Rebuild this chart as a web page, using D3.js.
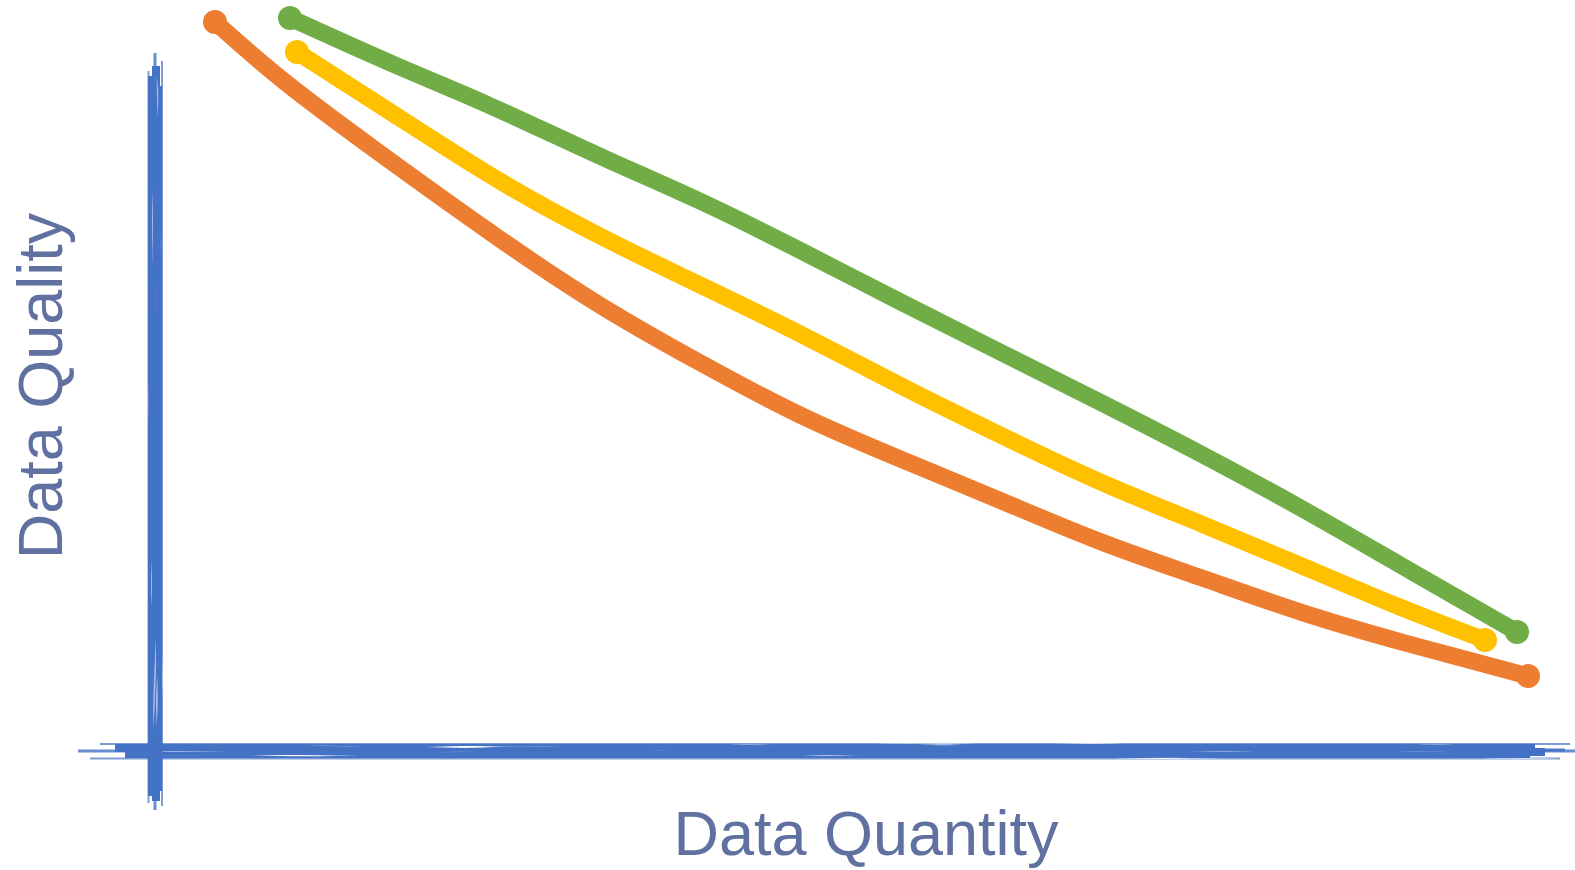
<!DOCTYPE html>
<html>
<head>
<meta charset="utf-8">
<script src="https://cdn.jsdelivr.net/npm/d3@7/dist/d3.min.js"></script>
<style>
  html, body { margin: 0; padding: 0; background: #ffffff; }
  svg { display: block; }
</style>
</head>
<body>
<svg id="chart" width="1575" height="870"></svg>
<script>
// ---- data ----
const seriesNames = ["Orange", "Yellow", "Green"];
const seriesColors = ["#ed7d31", "#ffc000", "#70ad47"];

const orangeQuantity = [6.0, 12.5, 22.0, 34.5, 44.5, 54.5, 64.5, 74.5, 84.5, 94.5, 104.5, 114.5, 124.5, 137.3];
const orangeQuality  = [72.9, 67.1, 60.1, 51.1, 44.4, 38.8, 33.4, 29.2, 25.1, 20.8, 17.4, 13.8, 10.9, 7.5];

const yellowQuantity = [14.2, 24.5, 34.5, 44.5, 54.5, 64.5, 74.5, 84.5, 94.5, 104.5, 114.5, 124.5, 133.0];
const yellowQuality  = [69.9, 63.3, 56.8, 51.4, 46.6, 41.8, 36.5, 31.6, 26.8, 22.8, 18.6, 14.3, 11.1];

const greenQuantity  = [13.5, 24.5, 32.5, 44.5, 54.5, 64.5, 74.5, 84.5, 94.5, 104.5, 114.5, 124.5, 136.2];
const greenQuality   = [73.3, 68.3, 65.1, 59.4, 55.1, 50.1, 44.9, 39.9, 34.9, 29.8, 24.4, 18.6, 11.9];

const xLabel = "Data Quantity";
const yLabel = "Data Quality";

// ---- layout ----
const svg = d3.select("#chart");
const x = d3.scaleLinear().domain([0, 140]).range([155, 1555]);
const y = d3.scaleLinear().domain([0, 70]).range([751, 51]);

const defs = svg.append("defs");

// brush texture for axes
function brushFilter(id, freq, seed) {
  const f = defs.append("filter").attr("id", id)
    .attr("filterUnits", "userSpaceOnUse")
    .attr("x", 0).attr("y", 0).attr("width", 1575).attr("height", 870)
    .attr("color-interpolation-filters", "sRGB");
  f.append("feTurbulence").attr("type", "fractalNoise").attr("baseFrequency", freq)
    .attr("numOctaves", 2).attr("seed", seed).attr("result", "n");
  f.append("feColorMatrix").attr("in", "n").attr("type", "matrix")
    .attr("values", "0 0 0 0 0  0 0 0 0 0  0 0 0 0 0  6 0 0 0 -0.9").attr("result", "m");
  f.append("feComposite").attr("in", "SourceGraphic").attr("in2", "m").attr("operator", "in");
}
brushFilter("brushH", "0.008 0.35", 3);
brushFilter("brushV", "0.35 0.008", 5);

const axisColor = "#4472c4";

// ---- axes (brush strokes) ----
const gx = svg.append("g").attr("filter", "url(#brushH)");
const xStrokes = [
  { a: -7.7, b: 142.0, off: 0, w: 3, o: 0.8 },
  { a: -4.0, b: 138.0, off: -3, w: 8, o: 1 },
  { a: -2.5, b: 139.0, off: 1, w: 8, o: 1 },
  { a: -3.0, b: 137.5, off: 4, w: 6, o: 1 },
  { a: -6.5, b: 140.5, off: 7.5, w: 2, o: 0.7 },
  { a: -5.5, b: 141.5, off: -7, w: 2, o: 0.7 },
  { a: 0.5, b: 141.0, off: -1, w: 3, o: 0.9 }
];
xStrokes.forEach(s => {
  gx.append("line")
    .attr("x1", x(s.a)).attr("x2", x(s.b))
    .attr("y1", y(0) + s.off).attr("y2", y(0) + s.off)
    .attr("stroke", axisColor).attr("stroke-width", s.w).attr("stroke-opacity", s.o);
});

const gy = svg.append("g").attr("filter", "url(#brushV)");
const yStrokes = [
  { a: -5.9, b: 69.8, off: 0, w: 3, o: 0.8 },
  { a: -4.5, b: 67.5, off: -3, w: 8, o: 1 },
  { a: -5.0, b: 68.5, off: 1, w: 8, o: 1 },
  { a: -4.0, b: 66.5, off: 4, w: 6, o: 1 },
  { a: -5.5, b: 69.0, off: 7, w: 2, o: 0.7 },
  { a: -5.2, b: 68.0, off: -6.5, w: 2, o: 0.7 }
];
yStrokes.forEach(s => {
  gy.append("line")
    .attr("x1", x(0) + s.off).attr("x2", x(0) + s.off)
    .attr("y1", y(s.a)).attr("y2", y(s.b))
    .attr("stroke", axisColor).attr("stroke-width", s.w).attr("stroke-opacity", s.o);
});

// ---- series lines ----
const series = [
  { name: seriesNames[0], color: seriesColors[0], q: orangeQuantity, v: orangeQuality },
  { name: seriesNames[1], color: seriesColors[1], q: yellowQuantity, v: yellowQuality },
  { name: seriesNames[2], color: seriesColors[2], q: greenQuantity, v: greenQuality }
];

const line = d3.line().x(d => x(d[0])).y(d => y(d[1])).curve(d3.curveBasis);

const gl = svg.append("g");
series.forEach(s => {
  const pts = s.q.map((q, i) => [q, s.v[i]]);
  gl.append("path")
    .datum(pts)
    .attr("d", line)
    .attr("fill", "none")
    .attr("stroke", s.color)
    .attr("stroke-width", 17)
    .attr("stroke-linecap", "round")
    .attr("stroke-linejoin", "round");
  [pts[0], pts[pts.length - 1]].forEach(p => {
    gl.append("circle")
      .attr("cx", x(p[0])).attr("cy", y(p[1])).attr("r", 12)
      .attr("fill", s.color);
  });
});

// ---- axis labels ----
const labelColor = "#6070a0";
svg.append("text")
  .attr("x", 866).attr("y", 855)
  .attr("text-anchor", "middle")
  .attr("font-family", "'Liberation Sans', Arial, Helvetica, sans-serif")
  .attr("font-size", 63)
  .attr("fill", labelColor)
  .text(xLabel);

svg.append("text")
  .attr("transform", "translate(62,386) rotate(-90)")
  .attr("text-anchor", "middle")
  .attr("font-family", "'Liberation Sans', Arial, Helvetica, sans-serif")
  .attr("font-size", 63)
  .attr("fill", labelColor)
  .text(yLabel);
</script>
</body>
</html>
